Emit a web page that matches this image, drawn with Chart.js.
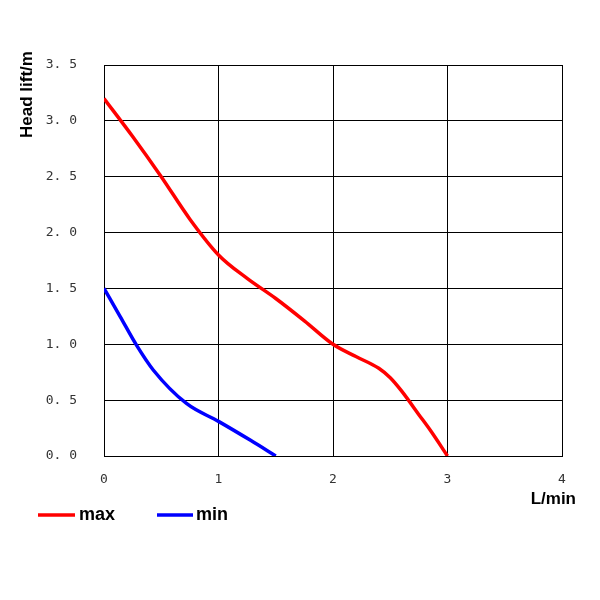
<!DOCTYPE html>
<html>
<head>
<meta charset="utf-8">
<script src="https://cdn.jsdelivr.net/npm/chart.js@4"></script>
<style>
html,body{margin:0;padding:0;background:#fff;}
#wrap{width:600px;height:600px;}
</style>
</head>
<body>
<div id="wrap"><canvas id="c" width="600" height="600"></canvas></div>
<script>
const maxFlow = [0, 0.25, 0.5, 0.75, 1.0, 1.25, 1.5, 1.75, 2.0, 2.2, 2.4, 2.5, 2.6, 2.75, 2.85, 3.0];
const maxHead = [3.2, 2.86, 2.50, 2.12, 1.80, 1.59, 1.41, 1.21, 1.0, 0.89, 0.785, 0.70, 0.58, 0.37, 0.23, 0.0];
const minFlow = [0, 0.14, 0.285, 0.43, 0.72, 1.0, 1.28, 1.5];
const minHead = [1.5, 1.25, 0.99, 0.77, 0.47, 0.31, 0.14, 0.0];
const seriesNames = ['max', 'min'];
const xTitle = 'L/min';
const yTitle = 'Head lift/m';

const toPts = (xs, ys) => xs.map((x, i) => ({x: x, y: ys[i]}));

const extras = {
  id: 'extras',
  afterDraw(chart) {
    const ctx = chart.ctx;
    ctx.save();
    ctx.fillStyle = '#000';
    ctx.font = 'bold 17px "Liberation Sans", Arial, sans-serif';
    ctx.textAlign = 'right';
    ctx.textBaseline = 'middle';
    ctx.fillText(xTitle, 576, 499);
    ctx.translate(32, 94.5);
    ctx.rotate(-Math.PI / 2);
    ctx.textAlign = 'center';
    ctx.textBaseline = 'alphabetic';
    ctx.fillText(yTitle, 0, 0);
    ctx.restore();
    ctx.save();
    const items = [{x0: 38, x1: 75, tx: 79}, {x0: 157, x1: 193, tx: 196}];
    chart.data.datasets.forEach((ds, i) => {
      const it = items[i];
      ctx.strokeStyle = ds.borderColor;
      ctx.lineWidth = 3.5;
      ctx.beginPath();
      ctx.moveTo(it.x0, 515);
      ctx.lineTo(it.x1, 515);
      ctx.stroke();
      ctx.fillStyle = '#000';
      ctx.font = 'bold 18px "Liberation Sans", Arial, sans-serif';
      ctx.textAlign = 'left';
      ctx.textBaseline = 'middle';
      ctx.fillText(ds.label, it.tx, 515);
    });
    ctx.restore();
  }
};

new Chart(document.getElementById('c'), {
  type: 'line',
  data: {
    datasets: [
      {label: seriesNames[0], data: toPts(maxFlow, maxHead), borderColor: '#ff0000', borderWidth: 3.5, pointRadius: 0, cubicInterpolationMode: 'monotone', fill: false},
      {label: seriesNames[1], data: toPts(minFlow, minHead), borderColor: '#0000ff', borderWidth: 3.5, pointRadius: 0, cubicInterpolationMode: 'monotone', fill: false}
    ]
  },
  plugins: [extras],
  options: {
    responsive: false,
    animation: false,
    devicePixelRatio: 1,
    layout: {padding: {left: 0, top: 65, right: 38, bottom: 0}},
    plugins: {legend: {display: false}, tooltip: {enabled: false}},
    scales: {
      x: {
        type: 'linear', min: 0, max: 4,
        ticks: {stepSize: 1, color: '#333', padding: 16, font: {family: '"DejaVu Sans Mono", monospace', size: 13}, maxRotation: 0},
        grid: {color: '#000', lineWidth: 1, drawTicks: false},
        border: {color: '#000', width: 1},
        afterFit(s) { s.height = 144; }
      },
      y: {
        type: 'linear', min: 0, max: 3.5,
        ticks: {stepSize: 0.5, color: '#333', padding: 27, font: {family: '"DejaVu Sans Mono", monospace', size: 13},
          callback: v => v.toFixed(1).replace('.', '. ')},
        grid: {color: '#000', lineWidth: 1, drawTicks: false},
        border: {color: '#000', width: 1},
        afterFit(s) { s.width = 104; }
      }
    }
  }
});
</script>
</body>
</html>
